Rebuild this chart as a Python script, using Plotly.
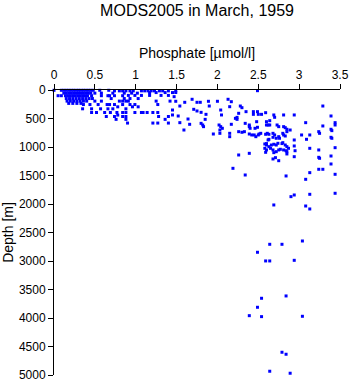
import plotly.graph_objects as go

# Upper layer (low phosphate), one line per depth level
upper_phosphate = [
    0.00, 0.09, 0.12, 0.15, 0.18, 0.21, 0.24, 0.27, 0.30, 0.33, 0.36, 0.39, 0.42, 0.45, 0.48, 0.56, 0.67,
    0.74, 0.80, 0.84, 0.88, 0.93, 0.97, 1.07, 1.11, 1.15, 1.19, 1.23, 1.29, 1.33, 1.40, 1.49,
    0.12, 0.15, 0.18, 0.21, 0.24, 0.27, 0.30, 0.33, 0.36, 0.39, 0.42, 0.45, 0.50, 0.58, 0.72, 0.86, 0.95, 1.02,
    1.17, 1.25, 1.36, 1.45,
    0.05, 0.09, 0.14, 0.17, 0.20, 0.23, 0.26, 0.29, 0.32, 0.35, 0.38, 0.41, 0.46, 0.58, 0.66, 0.68, 0.74, 0.84,
    0.91, 0.99, 1.07, 1.17, 1.31, 1.40,
    0.15, 0.19, 0.23, 0.27, 0.31, 0.35, 0.39, 0.43, 0.47, 0.70, 0.86, 0.93, 1.03,
    0.16, 0.20, 0.24, 0.28, 0.32, 0.36, 0.40, 0.50, 0.58, 0.80, 0.84, 0.88, 0.91, 1.25, 1.42,
    0.18, 0.23, 0.28, 0.33,
    0.36, 0.44, 0.54, 0.65, 0.68, 0.74, 0.84, 0.93, 0.99, 1.27,
    0.78, 0.96, 1.03,
    0.35, 0.46, 0.57, 0.66, 0.72, 0.88,
    0.46, 0.52, 0.62, 0.69, 0.77, 0.84, 0.88, 0.99, 1.07, 1.09, 1.14, 1.21, 1.27,
    0.78,
    0.64, 0.74, 0.84, 0.88, 1.28, 1.40,
    0.76, 0.88, 1.36,
    0.90, 1.21, 1.27, 1.40,
]
upper_depth = (
    [5] * 17 + [15] * 15
    + [55] * 18 + [45] * 4
    + [100] * 18 + [95] * 6
    + [150] * 13
    + [195] * 15
    + [235] * 4
    + [255] * 10
    + [295] * 3
    + [330] * 6
    + [395] * 13
    + [440] * 1
    + [465] * 6
    + [515] * 3
    + [580] * 4
)

# Phosphacline / intermediate waters
mid_phosphate = [
    1.47, 1.49, 1.49, 1.45, 1.45, 1.52, 1.54, 1.54, 1.59, 1.60, 1.64, 1.66, 1.69, 1.71, 1.75, 1.75,
    1.79, 1.80, 1.82, 1.83, 1.80, 1.85, 1.86, 1.89, 1.90, 1.95, 2.00, 2.02, 2.04, 2.03, 2.06, 2.03,
    2.04, 2.05, 2.13, 2.17, 2.15, 2.15, 2.15, 2.17, 2.22, 2.24, 2.24, 2.26, 2.26, 2.28, 2.30, 2.30,
    2.33, 2.34, 2.35, 2.39, 2.39, 2.40, 2.39, 2.26, 2.19, 2.34, 2.39, 2.42, 2.44, 2.44, 2.49, 2.50,
    2.48, 2.46, 2.45, 2.47, 2.50, 2.49, 2.49, 2.51, 2.53, 2.54, 2.59, 2.60, 2.62, 2.64, 2.60, 2.64,
    2.59, 2.61, 2.63, 2.62, 2.63, 2.58, 2.60, 2.58, 2.60, 2.59, 2.63, 2.66, 2.65, 2.68, 2.70, 2.68,
    2.72, 2.69, 2.70, 2.69, 2.72, 2.68, 2.72, 2.69, 2.68, 2.71, 2.75, 2.75, 2.76, 2.75, 2.77, 2.73,
    2.75, 2.81, 2.81, 2.83, 2.80, 2.81, 2.83, 2.80, 2.83, 2.81, 2.84, 2.85, 2.85, 2.85, 2.87, 2.85,
    2.85, 2.89, 2.84, 2.90, 2.94, 2.94, 2.94, 2.95, 2.94, 2.94, 3.03, 3.08, 3.09, 3.13, 3.13, 3.13,
    3.08, 3.13, 3.24, 3.25, 3.24, 3.24, 3.25, 3.24, 3.29, 3.29, 3.29, 3.39, 3.39, 3.40, 3.39, 3.40,
    3.39, 3.39, 3.44, 3.44, 3.44, 3.44, 3.44, 2.60, 2.74, 2.79,
]
mid_depth = [
    117, 44, 198, 351, 438, 456, 281, 573, 702, 216, 509, 602, 163, 339, 368, 216,
    216, 585, 614, 643, 392, 515, 427, 198, 281, 772, 198, 614, 643, 702, 672, 760,
    351, 438, 163, 205, 293, 760, 819, 602, 497, 480, 515, 409, 731, 281, 310, 742,
    731, 585, 380, 614, 643, 672, 1111, 1140, 1374, 1491, 772, 789, 380, 427, 380, 427,
    556, 672, 789, 819, 789, 654, 12, 772, 760, 427, 398, 614, 614, 614, 556, 538,
    777, 760, 777, 877, 865, 947, 965, 1023, 1052, 1093, 994, 965, 1023, 760, 789, 830,
    847, 438, 479, 952, 965, 1052, 1082, 1099, 1210, 1187, 1240, 819, 847, 1052, 1040, 614,
    643, 438, 643, 661, 760, 789, 807, 924, 965, 1052, 1065, 689, 731, 994, 1023, 1082,
    1122, 702, 1508, 1871, 438, 877, 982, 1065, 1170, 1842, 789, 573, 865, 789, 1023, 1450,
    1567, 1830, 731, 760, 1052, 1181, 1198, 1391, 1391, 281, 631, 456, 689, 713, 830, 847,
    1158, 1298, 573, 614, 1012, 1479, 1812, 940, 935, 940,
]

# Deep casts
deep_phosphate = [2.69, 3.08, 3.13, 2.64, 2.79, 3.04, 2.49, 2.59, 2.64, 2.94,
                  2.54, 2.84, 2.49, 2.39, 2.54, 3.04, 2.79, 2.84, 2.64, 2.89]
deep_depth = [2017, 2035, 2087, 2707, 2707, 2649, 2847, 2999, 2999, 2988,
              3654, 3613, 3812, 3959, 3976, 3970, 4601, 4636, 4934, 4969]

phosphate = upper_phosphate + mid_phosphate + deep_phosphate
depth = upper_depth + mid_depth + deep_depth

font_family = "Liberation Sans, Arial, sans-serif"

fig = go.Figure(
    go.Scatter(
        x=phosphate,
        y=depth,
        mode="markers",
        marker=dict(symbol="square", size=3, color="#0000ff", line=dict(width=0)),
        cliponaxis=False,
        hoverinfo="x+y",
    )
)

fig.update_layout(
    width=350,
    height=384,
    margin=dict(l=54, r=10, t=90, b=9, autoexpand=False),
    paper_bgcolor="white",
    plot_bgcolor="white",
    showlegend=False,
    font=dict(family=font_family, size=12, color="black"),
    title=dict(
        text="MODS2005 in March, 1959",
        font=dict(family=font_family, size=16, color="black"),
        x=0.563,
        xanchor="center",
        xref="container",
        y=0.972,
        yanchor="middle",
        yref="container",
    ),
)

fig.update_xaxes(
    side="top",
    range=[0, 3.5],
    tick0=0,
    dtick=0.5,
    automargin=False,
    showgrid=False,
    zeroline=False,
    showline=True,
    linecolor="black",
    linewidth=1,
    ticks="outside",
    ticklen=5,
    tickcolor="black",
    title=dict(text="Phosphate [µmol/l]", standoff=6),
)

fig.update_yaxes(
    range=[5000, 0],
    tick0=0,
    dtick=500,
    automargin=False,
    showgrid=False,
    zeroline=False,
    showline=True,
    linecolor="black",
    linewidth=1,
    ticks="outside",
    ticklen=5,
    tickcolor="black",
    title=dict(text="Depth [m]", standoff=4),
)

fig.write_html("out.html")
